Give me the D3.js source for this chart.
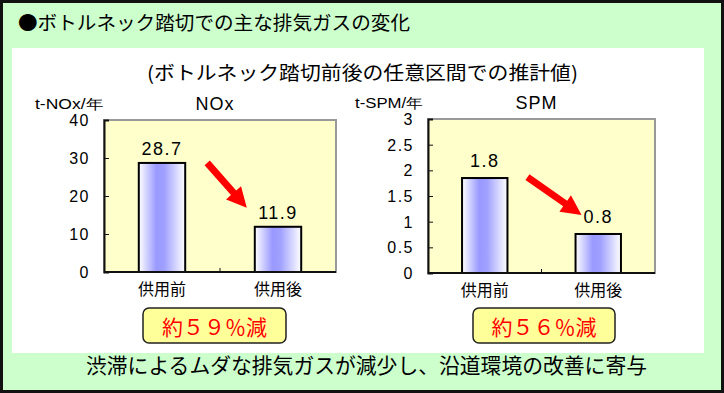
<!DOCTYPE html>
<html>
<head>
<meta charset="utf-8">
<title>ボトルネック踏切での主な排気ガスの変化</title>
<script src="https://cdn.jsdelivr.net/npm/d3@7"></script>
<style>
  body { margin: 0; background: #fff; }
  svg { display: block; }
  .jp { font-family: "Noto Sans CJK JP", sans-serif; }
  .num { font-family: "Liberation Sans", Arial, sans-serif; }
</style>
</head>
<body>
<svg id="chart" width="724" height="393"></svg>
<script>
// data
const categories = ["供用前", "供用後"];
const noxValues = [28.7, 11.9];
const noxLabels = ["28.7", "11.9"];
const noxTicks = [0, 10, 20, 30, 40];
const spmValues = [1.85, 0.76];
const spmLabels = ["1.8", "0.8"];
const spmTicks = [0, 0.5, 1, 1.5, 2, 2.5, 3];
const reductionLabels = ["約５９％減", "約５６％減"];

const svg = d3.select("#chart");

// frame + backgrounds
svg.append("rect").attr("x", 1.5).attr("y", 1.5).attr("width", 721).attr("height", 390)
  .attr("fill", "#ccffcc").attr("stroke", "#111").attr("stroke-width", 3);
svg.append("rect").attr("x", 12).attr("y", 48).attr("width", 692).attr("height", 305)
  .attr("fill", "#fff");

// gradient for bars
const grad = svg.append("defs").append("linearGradient").attr("id", "barGrad")
  .attr("x1", "0%").attr("x2", "100%").attr("y1", "0%").attr("y2", "0%");
grad.append("stop").attr("offset", "0%").attr("stop-color", "#ffffff");
grad.append("stop").attr("offset", "38%").attr("stop-color", "#9999ff");
grad.append("stop").attr("offset", "55%").attr("stop-color", "#a0a0ff");
grad.append("stop").attr("offset", "100%").attr("stop-color", "#ffffff");

// titles
svg.append("text").attr("class", "jp").attr("x", 18).attr("y", 30)
  .attr("font-size", 19).attr("textLength", 392).attr("lengthAdjust", "spacingAndGlyphs")
  .text("●ボトルネック踏切での主な排気ガスの変化");
svg.append("text").attr("class", "jp").attr("x", 147).attr("y", 80)
  .attr("font-size", 19).attr("textLength", 431).attr("lengthAdjust", "spacingAndGlyphs")
  .text("(ボトルネック踏切前後の任意区間での推計値)");
svg.append("text").attr("class", "jp").attr("x", 86).attr("y", 373)
  .attr("font-size", 21).attr("textLength", 561).attr("lengthAdjust", "spacingAndGlyphs")
  .text("渋滞によるムダな排気ガスが減少し、沿道環境の改善に寄与");

const charts = [
  { name: "NOx", unit: "t-NOx/年", values: noxValues, labels: noxLabels, ticks: noxTicks,
    x0: 104, x1: 336, y0: 120, y1: 272, unitX: 35, labelGap: 8,
    arrow: [22, 0, -8, -19], box: [143, 308, 143, 35], reduction: reductionLabels[0] },
  { name: "SPM", unit: "t-SPM/年", values: spmValues, labels: spmLabels, ticks: spmTicks,
    x0: 428, x1: 655, y0: 119, y1: 273, unitX: 355, labelGap: 11,
    arrow: [20, -1, 6, -19], box: [473, 308, 142, 35], reduction: reductionLabels[1] }
];

charts.forEach(function(c) {
  const x = d3.scalePoint().domain(categories).range([c.x0, c.x1]).padding(0.5);
  const bw = x.step() * 0.4;
  const y = d3.scaleLinear().domain([0, d3.max(c.ticks)]).range([c.y1, c.y0]);
  const g = svg.append("g");

  // plot background
  g.append("rect").attr("x", c.x0).attr("y", c.y0).attr("width", c.x1 - c.x0).attr("height", c.y1 - c.y0)
    .attr("fill", "#ffffcc").attr("stroke", "#999").attr("stroke-width", 2);

  // bars
  g.selectAll(".bar").data(c.values).enter().append("rect")
    .attr("class", "bar")
    .attr("x", (d, i) => x(categories[i]) - bw / 2)
    .attr("y", d => y(d))
    .attr("width", bw)
    .attr("height", d => y(0) - y(d))
    .attr("fill", "url(#barGrad)")
    .attr("stroke", "#000").attr("stroke-width", 2);

  // axes
  const yAxis = g.append("g").attr("transform", "translate(" + c.x0 + ",0)")
    .call(d3.axisRight(y).tickValues(c.ticks).tickSize(5).tickFormat(""));
  yAxis.select(".domain").attr("stroke", "#111").attr("stroke-width", 2);
  yAxis.selectAll(".tick line").attr("stroke", "#111");
  g.selectAll(".ytick").data(c.ticks).enter().append("text")
    .attr("class", "num").attr("x", c.x0 - 14).attr("y", d => y(d) + 6)
    .attr("text-anchor", "end").attr("font-size", 16).attr("letter-spacing", 1.5).text(d => d);

  g.append("line").attr("x1", c.x0).attr("x2", c.x1).attr("y1", c.y1).attr("y2", c.y1)
    .attr("stroke", "#111").attr("stroke-width", 2);
  g.append("line").attr("x1", (c.x0 + c.x1) / 2).attr("x2", (c.x0 + c.x1) / 2)
    .attr("y1", c.y1).attr("y2", c.y1 - 4).attr("stroke", "#111");

  // category labels
  g.selectAll(".cat").data(categories).enter().append("text")
    .attr("class", "jp").attr("x", d => x(d)).attr("y", c.y1 + 23)
    .attr("text-anchor", "middle").attr("font-size", 16).text(d => d);

  // value labels
  g.selectAll(".val").data(c.values).enter().append("text")
    .attr("class", "num").attr("x", (d, i) => x(categories[i]))
    .attr("y", d => y(d) - c.labelGap)
    .attr("text-anchor", "middle").attr("font-size", 18).attr("letter-spacing", 1.5)
    .text((d, i) => c.labels[i]);

  // titles
  g.append("text").attr("class", "num").attr("x", (c.x0 + c.x1) / 2 - 5).attr("y", c.y0 - 10)
    .attr("text-anchor", "middle").attr("font-size", 18).attr("letter-spacing", 1).text(c.name);
  g.append("text").attr("class", "num").attr("x", c.unitX).attr("y", c.y0 - 11)
    .attr("font-size", 14).attr("textLength", 68).attr("lengthAdjust", "spacingAndGlyphs").text(c.unit);

  // arrow
  const sx = x(categories[0]) + bw / 2 + c.arrow[0], sy = y(c.values[0]) + c.arrow[1];
  const ex = x(categories[1]) - bw / 2 + c.arrow[2], ey = y(c.values[1]) + c.arrow[3];
  const ang = Math.atan2(ey - sy, ex - sx);
  const ux = Math.cos(ang), uy = Math.sin(ang), px = -uy, py = ux;
  const hl = 20, hw = 10, sw = 3.5;
  const bx = ex - ux * hl, by = ey - uy * hl;
  const pts = [
    [sx + px * sw, sy + py * sw], [bx + px * sw, by + py * sw], [bx + px * hw, by + py * hw],
    [ex, ey],
    [bx - px * hw, by - py * hw], [bx - px * sw, by - py * sw], [sx - px * sw, sy - py * sw]
  ];
  g.append("polygon").attr("points", pts.map(p => p.join(",")).join(" ")).attr("fill", "#ff0000");

  // reduction box
  g.append("rect").attr("x", c.box[0]).attr("y", c.box[1]).attr("width", c.box[2]).attr("height", c.box[3])
    .attr("rx", 6).attr("fill", "#ffff99").attr("stroke", "#222").attr("stroke-width", 1.5);
  g.append("text").attr("class", "jp").attr("x", c.box[0] + c.box[2] / 2).attr("y", c.box[1] + 27)
    .attr("text-anchor", "middle").attr("font-size", 21).attr("fill", "#ff0000").text(c.reduction);
});
</script>
</body>
</html>
